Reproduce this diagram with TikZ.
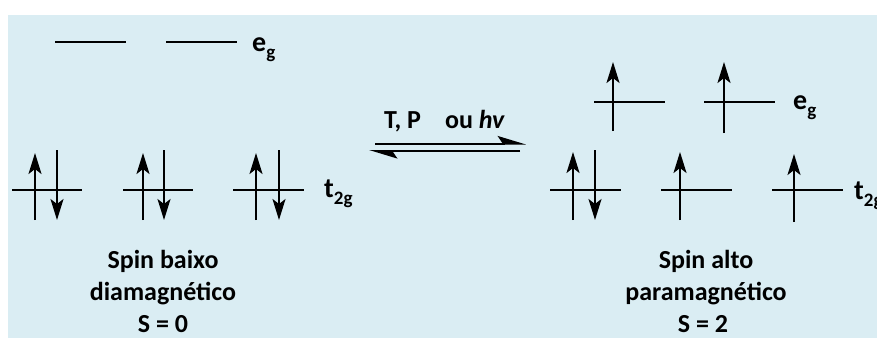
\documentclass[tikz,border=0pt]{standalone}
\usepackage{fontspec}
\setmainfont{Carlito}
\usetikzlibrary{arrows.meta}
\definecolor{bgblue}{HTML}{DAEDF3}
\tikzset{
  orb/.style={line width=2pt},
  spin/.style={line width=2pt,-{Stealth[length=21pt,width=13pt,inset=5pt]}},
  eqarrow/.style={line width=2pt,-{Stealth[left,length=25pt,width=15pt,inset=5pt]}},
  lbl/.style={inner sep=0pt,anchor=base,font=\bfseries\fontsize{26}{32}\selectfont},
  sym/.style={inner sep=0pt,anchor=base west,font=\bfseries\fontsize{28}{28}\selectfont},
  cond/.style={inner sep=0pt,anchor=base west,font=\bfseries\fontsize{26}{26}\selectfont}
}
\newcommand{\subs}[1]{\raisebox{-7pt}{\fontsize{19}{19}\selectfont #1}}
\begin{document}
\begin{tikzpicture}[x=1pt,y=-1pt]
\useasboundingbox (0,0) rectangle (877,338);
\begin{scope}
\clip (0,0) rectangle (877,338);
\fill[bgblue] (8,15) rectangle (877,338);

% ---- left: low spin ----
\draw[orb] (55,42) -- (126,42);
\draw[orb] (166,42) -- (237,42);
\node[sym] (egL) at (252,51) {e\subs{g}};
\draw[orb] (12,190) -- (82,190);
\draw[orb] (123,190) -- (193,190);
\draw[orb] (233,190) -- (304,190);
\foreach \ux/\dx in {35/57,143/164,256/279}{
  \draw[spin] (\ux,220) -- (\ux,153);
  \draw[spin] (\dx,150) -- (\dx,220);
}
\node[sym] (t2gL) at (324,197) {t\subs{2g}};
\node[lbl] (l1) at (163,268) {Spin baixo};
\node[lbl] (l2) at (163,300) {diamagnético};
\node[lbl] (l3) at (163,332) {S = 0};

% ---- equilibrium ----
\coordinate (a1) at (375,143.5);
\coordinate (a2) at (526,143.5);
\coordinate (b1) at (520,151);
\coordinate (b2) at (369,151);
\draw[eqarrow] (a1) -- (a2);
\draw[eqarrow] (b1) -- (b2);
\node[cond] (cnd) at (384,128) {T, P\hspace{24pt}ou \textit{hv}};

% ---- right: high spin ----
\draw[orb] (594,102) -- (665,102);
\draw[orb] (704,102) -- (775,102);
\draw[spin] (613,131) -- (613,62);
\draw[spin] (724,133) -- (724,62);
\node[sym] (egR) at (793,109) {e\subs{g}};
\draw[orb] (550,190) -- (621,190);
\draw[orb] (661,190) -- (732,190);
\draw[orb] (772,190) -- (843,190);
\draw[spin] (573,220) -- (573,152);
\draw[spin] (595,150) -- (595,220);
\draw[spin] (680,220) -- (680,152);
\draw[spin] (794,222) -- (794,154);
\node[sym] (t2gR) at (854,199) {t\subs{2g}};
\node[lbl] (r1) at (706,268) {Spin alto};
\node[lbl] (r2) at (706,300) {paramagnético};
\node[lbl] (r3) at (703,332) {S = 2};
\end{scope}
\end{tikzpicture}
\end{document}
